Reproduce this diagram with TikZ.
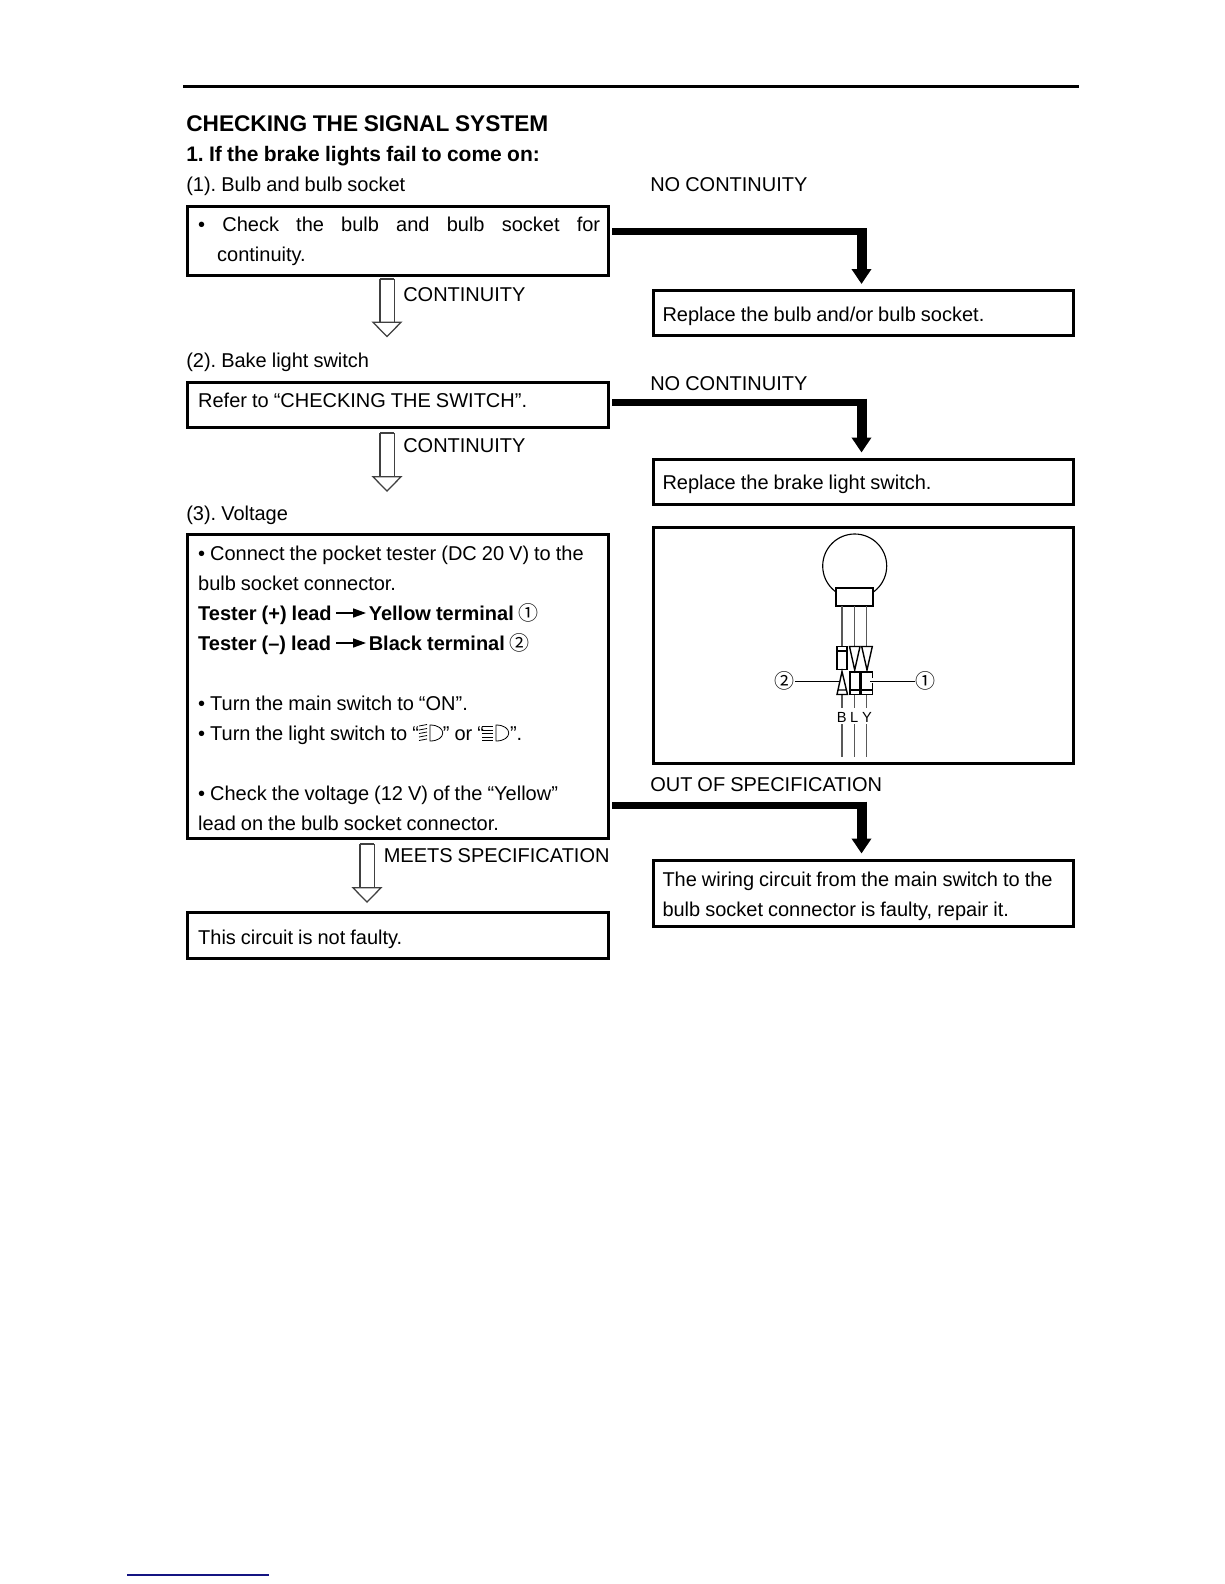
\documentclass[tikz,border=0pt]{standalone}
\usepackage{fontspec}
\setmainfont[WordSpace=0.9]{Liberation Sans}
\newfontfamily\circfont{Noto Sans CJK SC}
\usetikzlibrary{arrows.meta}
\newdimen\pxu \pxu=0.75pt
\newcommand\hd[2]{\rule[-#2\pxu]{0pt}{\dimexpr#1\pxu+#2\pxu\relax}}
\newcommand\cdig[1]{{\normalfont\circfont\fontsize{15}{18}\selectfont #1}}
\definecolor{navyline}{RGB}{20,20,130}
\tikzset{
 x=0.75pt,y=-0.75pt,
 lab/.style={anchor=base west,inner sep=0pt,font=\fontsize{15}{22.5}\selectfont},
 boxb/.style={draw=black,line width=2.25pt,anchor=north west,inner xsep=8pt,inner ysep=0pt,text width=299.75pt,align=flush left,font=\fontsize{15}{22.5}\selectfont},
 boxr/.style={draw=black,line width=2.25pt,anchor=north west,inner xsep=7.125pt,inner ysep=0pt,text width=301.1pt,align=flush left,font=\fontsize{15}{22.5}\selectfont},
 frame/.style={draw=black,line width=2.25pt},
 hollow/.style={draw=black!75,line width=0.95pt,double=white,double distance=9.75pt,
   -{Triangle[open,fill=white,length=12pt,width=23.25pt,line width=0.95pt]}},
 heavyh/.style={draw=black,line width=5.25pt},
 heavyv/.style={draw=black,line width=7.5pt,shorten >=3.75pt,-{Triangle[length=11.25pt,width=14.25pt]}},
 thin/.style={draw=black,line width=0.85pt},
 conn/.style={draw=black,line width=1.05pt},
 wire/.style={draw=black!65,line width=0.9pt},
 leader/.style={draw=black,line width=0.75pt},
 tiparrow/.style={draw=black,line width=1.2pt,-{Triangle[length=9.75pt,width=6.75pt]}},
 circlab/.style={inner sep=0pt,font=\circfont\fontsize{15}{18}\selectfont},
 wlab/.style={inner sep=0pt,font=\fontsize{11}{12}\selectfont},
 lamp/.style={draw=black,line width=0.6pt},
}
\begin{document}
\frenchspacing
\begin{tikzpicture}
\useasboundingbox (0,0) rectangle (1224,1584);
\fill[white] (0,0) rectangle (1224,1584);
\draw[black,line width=2.25pt] (183,86.5) -- (1079,86.5);
\draw[navyline,line width=1.2pt] (127,1575) -- (269,1575);
% headings
\node[lab,font=\bfseries\fontsize{17}{22}\selectfont] (title) at (186,132) {CHECKING THE SIGNAL SYSTEM};
\node[lab,font=\bfseries\fontsize{15.75}{22}\selectfont] (sub) at (186,161.5) {1. If the brake lights fail to come on:};
\node[lab] (l1) at (186,191) {(1). Bulb and bulb socket};
\node[lab] (l2) at (186,367.5) {(2). Bake light switch};
\node[lab] (l3) at (186,520) {(3). Voltage};
\node[lab] (n1) at (650,191) {NO CONTINUITY};
\node[lab] (n2) at (650,390) {NO CONTINUITY};
\node[lab] (n3) at (650,791) {OUT OF SPECIFICATION};
\node[lab] (c1) at (403,301) {CONTINUITY};
\node[lab] (c2) at (403,452.5) {CONTINUITY};
\node[lab] (c3) at (383.5,862.5) {MEETS SPECIFICATION};
% left boxes
\node[boxb] (b1) at (186,204.5) {\hbox to 402\pxu{\hd{25}{0}•\hfil Check\hfil the\hfil bulb\hfil and\hfil bulb\hfil socket\hfil for}\\
 \hspace*{19\pxu}continuity.\hd{0}{14}};
\node[boxb] (b2) at (186,380.7) {\hd{25.3}{20}Refer to “CHECKING THE SWITCH”.};
\node[boxb] (b3) at (186,533) {\hd{25.5}{0}• Connect the pocket tester (DC 20 V) to the\\
 bulb socket connector.\\
 \makebox[170.6\pxu][l]{\bfseries Tester (+) lead}{\bfseries Yellow terminal} \cdig{①}\\
 \makebox[170.6\pxu][l]{\bfseries Tester (–) lead}{\bfseries Black terminal} \cdig{②}\\
 \mbox{}\\
 • Turn the main switch to “ON”.\\
 • Turn the light switch to “\hspace{24\pxu}” or “\hspace{26\pxu}”.\\
 \mbox{}\\
 • Check the voltage (12 V) of the “Yellow”\\
 lead on the bulb socket connector.\hd{0}{8}};
\node[boxb] (b4) at (186,911) {\hd{32}{14}This circuit is not faulty.};
% right boxes
\node[boxr] (r1) at (651.5,289) {\hd{31}{14}Replace the bulb and/or bulb socket.};
\node[boxr] (r2) at (651.5,457.5) {\hd{30.5}{15}Replace the brake light switch.};
\node[boxr] (r3) at (651.5,858.5) {\hd{26}{0}The wiring circuit from the main switch to the\\
 bulb socket connector is faulty, repair it.\hd{0}{10}};
% hollow arrows
\coordinate (h1s) at (387,279); \coordinate (h1e) at (387,337.5);
\coordinate (h2s) at (387,433); \coordinate (h2e) at (387,492);
\coordinate (h3s) at (367,844); \coordinate (h3e) at (367,903);
\draw[hollow] (h1s) -- (h1e);
\draw[hollow] (h2s) -- (h2e);
\draw[hollow] (h3s) -- (h3e);
\draw[draw=black!75,line width=0.95pt] (380,279)--(394,279) (380,433)--(394,433) (360,844)--(374,844);
% heavy arrows
\coordinate (k1a) at (612,231.5); \coordinate (k1b) at (866.5,231.5); \coordinate (k1c) at (861.5,228);
\coordinate (k2a) at (612,402); \coordinate (k2b) at (866.5,402); \coordinate (k2c) at (861.5,398.5);
\coordinate (k3a) at (612,805); \coordinate (k3b) at (866.5,805); \coordinate (k3c) at (861.5,801.5);
\draw[heavyh] (k1a) -- (k1b); \draw[heavyv] (k1c) -- (k1c |- r1.north);
\draw[heavyh] (k2a) -- (k2b); \draw[heavyv] (k2c) -- (k2c |- r2.north);
\draw[heavyh] (k3a) -- (k3b); \draw[heavyv] (k3c) -- (k3c |- r3.north);
% tester arrows
\coordinate (t1a) at (336,613); \coordinate (t1b) at (366,613);
\coordinate (t2a) at (336,643); \coordinate (t2b) at (366,643);
\draw[tiparrow] (t1a) -- (t1b);
\draw[tiparrow] (t2a) -- (t2b);
% lamp symbols
\draw[lamp] (430,725) .. controls (447,725) and (447,741) .. (430,741) -- cycle;
\draw[lamp] (419,726)--(427,724.5) (419,730)--(427,728.5) (419,733.5)--(427,732) (419,737)--(427,735.5) (419,740.5)--(427,739);
\draw[lamp] (496,725) .. controls (513,725) and (513,741) .. (496,741) -- cycle;
\draw[lamp] (482,726)--(492.5,726) (482,730)--(492.5,730) (482,733.5)--(492.5,733.5) (482,737)--(492.5,737) (482,740.5)--(492.5,740.5);
% figure
\node[frame,anchor=north west,minimum width=315pt,minimum height=177pt,inner sep=0pt] (fig) at (651.5,526) {};
\draw[thin] (854.7,566) circle[radius=32];
\draw[thin,fill=white] (836,588) rectangle (873,606);
\foreach \wx in {842,854.3,866.7}{
 \draw[wire] (\wx,606) -- (\wx,646);
 \draw[wire] (\wx,695) -- (\wx,708);
 \draw[wire] (\wx,724) -- (\wx,757);
}
\draw[conn] (837,646.5) rectangle (847,669.5) (837,651)--(847,651);
\draw[conn] (849.5,646.5)--(860,646.5)--(854.7,670)--cycle;
\draw[conn] (861.7,646.5)--(872.3,646.5)--(867,670)--cycle;
\draw[conn] (842,671.5)--(837,694.5)--(847.5,694.5)--cycle (838,690)--(846.5,690);
\draw[conn] (850,672) rectangle (860,694.5) (850,690)--(860,690);
\draw[conn] (872.3,678)--(872.3,672)--(861.7,672)--(861.7,694.5)--(872.3,694.5)--(872.3,683) (861.7,690)--(872.3,690);
\node[wlab] (wb) at (841.7,717) {B};
\node[wlab] (wl) at (854.3,717) {L};
\node[wlab] (wy) at (867,717) {Y};
\node[circlab] (m2) at (784.7,681) {②};
\node[circlab] (m1) at (925.7,681) {①};
\draw[leader] (m2) -- (840,681);
\draw[leader] (m1) -- (870,681);
\end{tikzpicture}
\end{document}
